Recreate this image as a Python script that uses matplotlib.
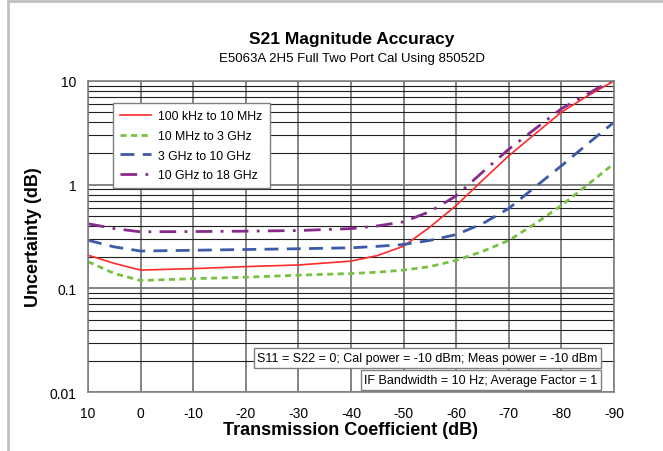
import numpy as np
import matplotlib
matplotlib.use('Agg')
import matplotlib.pyplot as plt
from matplotlib.ticker import FixedLocator, FixedFormatter, LogLocator, NullFormatter
from matplotlib.lines import Line2D

plt.rcParams['font.family'] = ['Liberation Sans', 'DejaVu Sans']
plt.rcParams['axes.unicode_minus'] = False

# transmission coefficient (dB)
s21 = [10, 5, 0, -10, -20, -30, -40, -45, -50, -55, -60, -65, -70, -75, -80, -85, -90]

# uncertainty (dB)
red = [0.209, 0.174, 0.150, 0.155, 0.162, 0.168, 0.183, 0.207, 0.255, 0.39, 0.63, 1.10, 1.9, 3.09, 5.0, 7.2, 10.0]
green = [0.181, 0.139, 0.119, 0.124, 0.128, 0.134, 0.139, 0.143, 0.150, 0.162, 0.186, 0.227, 0.29, 0.42, 0.63, 1.0, 1.6]
blue = [0.291, 0.251, 0.229, 0.233, 0.237, 0.241, 0.246, 0.254, 0.265, 0.29, 0.33, 0.42, 0.59, 0.95, 1.52, 2.48, 4.0]
purple = [0.42, 0.377, 0.351, 0.353, 0.356, 0.361, 0.377, 0.40, 0.438, 0.55, 0.78, 1.32, 2.2, 3.45, 5.4, 7.5, 10.5]

labels = ['100 kHz to 10 MHz', '10 MHz to 3 GHz', '3 GHz to 10 GHz', '10 GHz to 18 GHz']
xticks = [10, 0, -10, -20, -30, -40, -50, -60, -70, -80, -90]
yticks = [0.01, 0.1, 1, 10]
ytick_labels = ['0.01', '0.1', '1', '10']

fig = plt.figure(figsize=(6.63, 4.52), dpi=100)
ax = fig.add_axes([0.1327, 0.1305, 0.7934, 0.6881])

ax.plot(s21, red, color='#ff2a2a', lw=1.2, label=labels[0])
ax.plot(s21, green, color='#77c043', lw=2.0, dashes=(2.2, 1.6), label=labels[1])
ax.plot(s21, blue, color='#3d5aa8', lw=2.0, dashes=(5, 3), label=labels[2])
ax.plot(s21, purple, color='#872a8a', lw=2.0, dashes=(6, 3, 1, 3), label=labels[3])

ax.set_yscale('log')
ax.set_ylim(0.01, 10)
ax.set_xlim(10, -90)
ax.xaxis.set_major_locator(FixedLocator(xticks))
ax.xaxis.set_major_formatter(FixedFormatter([str(t) for t in xticks]))
ax.yaxis.set_major_locator(FixedLocator(yticks))
ax.yaxis.set_major_formatter(FixedFormatter(ytick_labels))
ax.yaxis.set_minor_locator(LogLocator(base=10, subs=np.arange(2, 10)))
ax.yaxis.set_minor_formatter(NullFormatter())
ax.tick_params(which='both', length=0, labelsize=10, pad=8)
ax.tick_params(axis='x', pad=10)

ax.grid(axis='x', which='major', color='#707070', lw=1.2)
ax.grid(axis='y', which='major', color='#707070', lw=1.2)
ax.grid(axis='y', which='minor', color='#202020', lw=0.8)
ax.set_axisbelow(True)
for sp in ax.spines.values():
    sp.set_color('#808080')
    sp.set_linewidth(1.2)

ax.set_xlabel('Transmission Coefficient (dB)', fontsize=13, fontweight='bold', labelpad=1)
ax.set_ylabel('Uncertainty (dB)', fontsize=13, fontweight='bold', labelpad=6)

fig.text(0.531, 0.912, 'S21 Magnitude Accuracy', ha='center', va='center',
         fontsize=12.5, fontweight='bold')
fig.text(0.531, 0.869, 'E5063A 2H5 Full Two Port Cal Using 85052D', ha='center',
         va='center', fontsize=9.5)

leg = ax.legend(loc='upper left', bbox_to_anchor=(0.0475, 0.929), borderaxespad=0,
                fontsize=8.8, frameon=True, fancybox=False, edgecolor='#808080',
                framealpha=1, handlelength=2.5, labelspacing=0.62, borderpad=0.6,
                handletextpad=0.6)
leg.get_frame().set_linewidth(1.0)

box = dict(boxstyle='square,pad=0.3', fc='white', ec='#808080', lw=1.0)
ax.text(0.969, 0.109, 'S11 = S22 = 0; Cal power = -10 dBm; Meas power = -10 dBm',
        transform=ax.transAxes, ha='right', va='center', fontsize=9, bbox=box)
ax.text(0.969, 0.038, 'IF Bandwidth = 10 Hz; Average Factor = 1',
        transform=ax.transAxes, ha='right', va='center', fontsize=9, bbox=box)

# light frame at left and top of the picture
fig.add_artist(Line2D([0.012, 0.012], [0, 0.996], color='#c0c0c0', lw=2))
fig.add_artist(Line2D([0.012, 1], [0.996, 0.996], color='#c0c0c0', lw=2))

fig.savefig('out.png', dpi=100)
